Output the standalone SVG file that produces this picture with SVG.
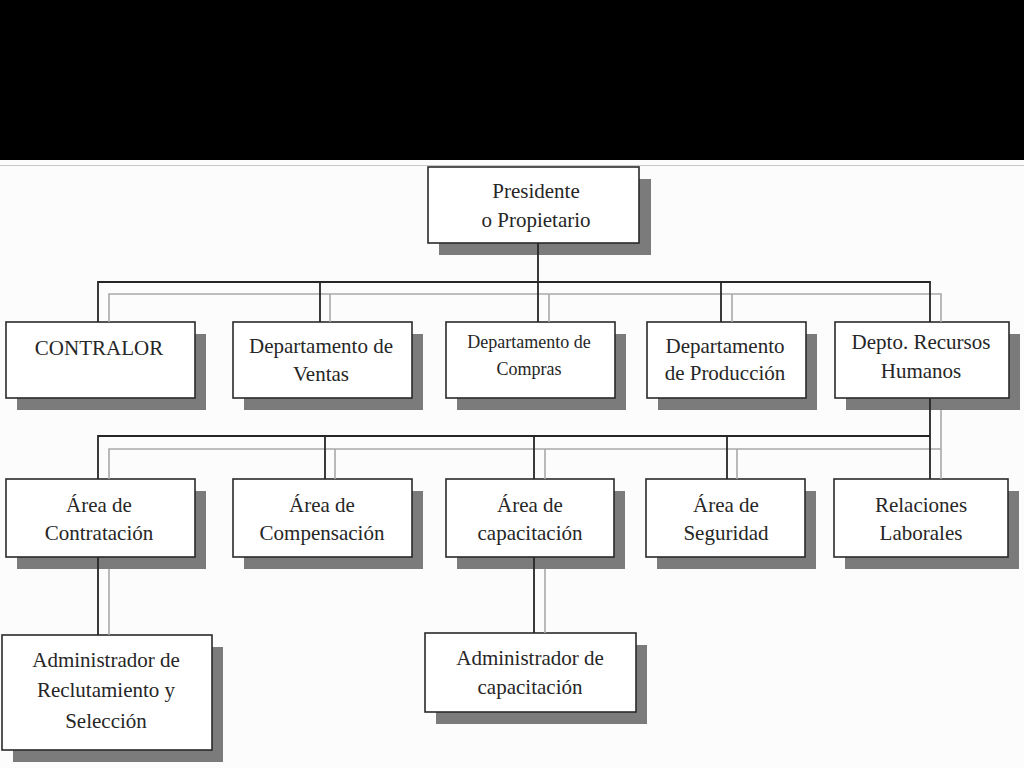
<svg xmlns="http://www.w3.org/2000/svg" width="1024" height="768" viewBox="0 0 1024 768">
<style>
.sh{fill:#7b7b7b}
.bx{fill:#ffffff;stroke:#2a2a2a;stroke-width:1.6}
.t{font-family:"Liberation Serif","Times New Roman",serif;font-size:21px;fill:#262626;text-anchor:middle}
.ts{font-size:18px}
.k{stroke:#262626;stroke-width:1.8;fill:none}
.g{stroke:#a8a8a8;stroke-width:1.6;fill:none}
</style>
<rect x="0" y="0" width="1024" height="768" fill="#fcfcfc"/>
<rect x="0" y="0" width="1024" height="160" fill="#000000"/>
<line x1="0" y1="165.5" x2="1024" y2="165.5" stroke="#c8c8c8" stroke-width="1"/>

<g id="presidente">
<rect class="sh" x="439" y="179" width="212" height="76"/>
<rect class="bx" x="428" y="167" width="211" height="76"/>
<text class="t" x="536" y="198">Presidente</text>
<text class="t" x="536" y="227">o Propietario</text>
</g>

<g id="contralor">
<rect class="sh" x="17" y="334" width="189" height="76"/>
<rect class="bx" x="6" y="322" width="189" height="76"/>
<text class="t" x="99" y="355">CONTRALOR</text>
</g>
<g id="ventas">
<rect class="sh" x="244" y="334" width="179" height="76"/>
<rect class="bx" x="233" y="322" width="179" height="76"/>
<text class="t" x="321" y="353">Departamento de</text>
<text class="t" x="321" y="381">Ventas</text>
</g>
<g id="compras">
<rect class="sh" x="457" y="334" width="169" height="76"/>
<rect class="bx" x="446" y="322" width="169" height="76"/>
<text class="t ts" x="529" y="348">Departamento de</text>
<text class="t ts" x="529" y="375">Compras</text>
</g>
<g id="produccion">
<rect class="sh" x="658" y="334" width="159" height="76"/>
<rect class="bx" x="647" y="322" width="159" height="76"/>
<text class="t" x="725" y="353">Departamento</text>
<text class="t" x="725" y="380">de Producción</text>
</g>
<g id="rrhh">
<rect class="sh" x="846" y="334" width="174" height="76"/>
<rect class="bx" x="835" y="322" width="174" height="76"/>
<text class="t" x="921" y="349">Depto. Recursos</text>
<text class="t" x="921" y="378">Humanos</text>
</g>

<g id="contratacion">
<rect class="sh" x="17" y="491" width="189" height="78"/>
<rect class="bx" x="6" y="479" width="189" height="78"/>
<text class="t" x="99" y="512">Área de</text>
<text class="t" x="99" y="540">Contratación</text>
</g>
<g id="compensacion">
<rect class="sh" x="244" y="491" width="179" height="78"/>
<rect class="bx" x="233" y="479" width="179" height="78"/>
<text class="t" x="322" y="512">Área de</text>
<text class="t" x="322" y="540">Compensación</text>
</g>
<g id="capacitacion">
<rect class="sh" x="457" y="491" width="168" height="78"/>
<rect class="bx" x="446" y="479" width="168" height="78"/>
<text class="t" x="530" y="512">Área de</text>
<text class="t" x="530" y="540">capacitación</text>
</g>
<g id="seguridad">
<rect class="sh" x="657" y="491" width="159" height="78"/>
<rect class="bx" x="646" y="479" width="159" height="78"/>
<text class="t" x="726" y="512">Área de</text>
<text class="t" x="726" y="540">Seguridad</text>
</g>
<g id="relaciones">
<rect class="sh" x="845" y="491" width="174" height="78"/>
<rect class="bx" x="834" y="479" width="174" height="78"/>
<text class="t" x="921" y="512">Relaciones</text>
<text class="t" x="921" y="540">Laborales</text>
</g>

<g id="admin-reclutamiento">
<rect class="sh" x="13" y="647" width="210" height="115"/>
<rect class="bx" x="2" y="635" width="210" height="115"/>
<text class="t" x="106" y="667">Administrador de</text>
<text class="t" x="106" y="697">Reclutamiento y</text>
<text class="t" x="106" y="728">Selección</text>
</g>
<g id="admin-capacitacion">
<rect class="sh" x="436" y="645" width="211" height="79"/>
<rect class="bx" x="425" y="633" width="211" height="79"/>
<text class="t" x="530" y="665">Administrador de</text>
<text class="t" x="530" y="694">capacitación</text>
</g>

<g id="connectors">
<path class="g" d="M109 322V294H941V322 M330 322V294 M549 322V294 M732 322V294"/>
<path class="k" d="M538 243V322 M98 322V282H930V322 M320 322V282 M721 322V282"/>
<path class="g" d="M941 410V479 M109 479V449H941V479 M335 479V449 M545 479V449 M737 479V449"/>
<path class="k" d="M930 398V479 M98 479V436H930 M325 479V436 M534 479V436 M727 479V436"/>
<path class="g" d="M109 569V635 M545 569V633"/>
<path class="k" d="M98 557V635 M534 557V633"/>
</g>
</svg>
